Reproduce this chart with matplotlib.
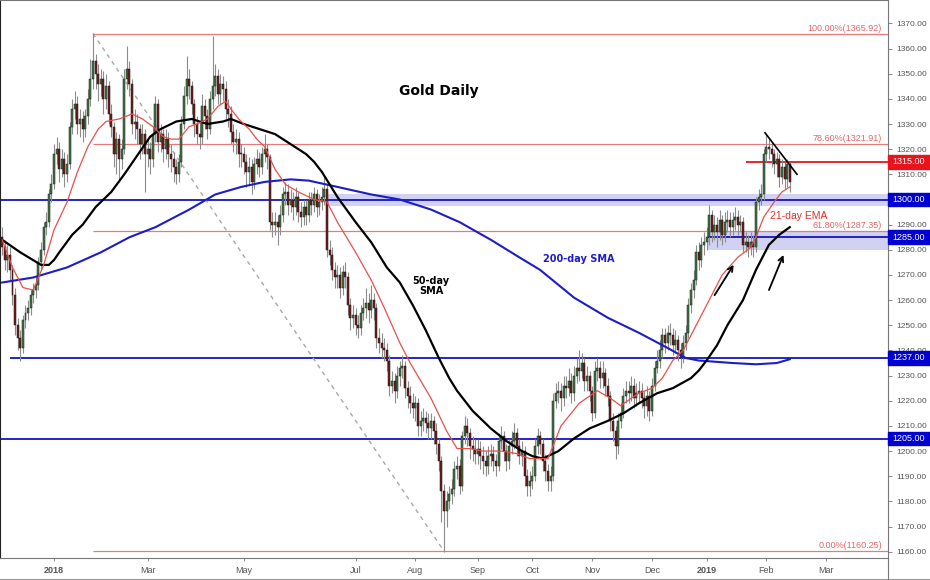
import numpy as np
import matplotlib.pyplot as plt
from matplotlib.transforms import blended_transform_factory
from matplotlib.patches import Rectangle
from matplotlib.lines import Line2D

plt.rcParams['font.family'] = ['Liberation Sans', 'DejaVu Sans']

# daily candles (Dec 2017 - Feb 2019)
opens = [
    1285, 1281, 1276, 1278, 1272, 1262, 1250, 1245, 1241, 1252,
    1255, 1257, 1262, 1264, 1266, 1275, 1280, 1289, 1291, 1302,
    1306, 1318, 1320, 1312, 1316, 1310, 1314, 1329, 1336, 1338,
    1330, 1332, 1328, 1333, 1340, 1348, 1355, 1350, 1346, 1348,
    1340, 1345, 1334, 1329, 1318, 1324, 1316, 1320, 1348, 1352,
    1346, 1330, 1331, 1328, 1322, 1326, 1318, 1320, 1316, 1326,
    1338, 1323, 1326, 1320, 1324, 1318, 1316, 1313, 1310, 1315,
    1330, 1341, 1348, 1345, 1338, 1330, 1326, 1325, 1337, 1333,
    1328, 1340, 1345, 1349, 1342, 1346, 1344, 1336, 1334, 1327,
    1323, 1324, 1318, 1318, 1315, 1311, 1313, 1307, 1314, 1316,
    1313, 1318, 1320, 1317, 1291, 1290, 1291, 1289, 1294, 1302,
    1303, 1298, 1300, 1297, 1301, 1295, 1293, 1297, 1294, 1300,
    1298, 1302, 1297, 1299, 1301, 1304, 1280, 1278, 1272, 1269,
    1270, 1265, 1271, 1269, 1258, 1253, 1254, 1250, 1249, 1255,
    1257, 1259, 1256, 1260, 1257, 1245, 1243, 1241, 1240, 1236,
    1226, 1228, 1224, 1230, 1233, 1234, 1225, 1222, 1219, 1217,
    1219, 1210, 1212, 1213, 1211, 1209, 1212, 1208, 1203, 1196,
    1184, 1176, 1180, 1183, 1185, 1193, 1194, 1186, 1206, 1210,
    1207, 1202, 1201, 1199, 1201, 1198, 1196, 1194, 1198, 1199,
    1196, 1194, 1204, 1206, 1200, 1196, 1202, 1204, 1207, 1202,
    1198, 1200, 1190, 1186, 1188, 1190, 1202, 1206, 1203, 1196,
    1192, 1188, 1190, 1220, 1223, 1224, 1221, 1226, 1225, 1228,
    1223, 1230, 1233, 1232, 1235, 1228, 1230, 1224, 1215, 1232,
    1233, 1229, 1231, 1226, 1222, 1212, 1208, 1202, 1212, 1215,
    1222, 1224, 1223, 1226, 1221, 1223, 1224, 1221, 1218, 1222,
    1216, 1226, 1233, 1236, 1240, 1246, 1243, 1247, 1246, 1242,
    1244, 1240, 1237, 1243, 1247, 1258, 1264, 1268, 1279, 1276,
    1282, 1283, 1285, 1294, 1287, 1290, 1287, 1292, 1286, 1291,
    1292, 1289, 1292, 1293, 1290, 1291, 1282, 1283, 1281, 1283,
    1281, 1299, 1301, 1302, 1318, 1321, 1320, 1318, 1314, 1316,
    1309, 1313, 1308, 1314]
highs = [
    1289, 1284, 1282, 1281, 1274, 1265, 1253, 1248, 1254, 1258,
    1260, 1264, 1267, 1269, 1277, 1283, 1291, 1295, 1304, 1310,
    1322, 1325, 1323, 1320, 1319, 1318, 1331, 1340, 1343, 1341,
    1336, 1335, 1336, 1344, 1356, 1366, 1358, 1354, 1352, 1351,
    1350, 1347, 1338, 1331, 1327, 1326, 1324, 1352, 1361, 1355,
    1348, 1336, 1334, 1330, 1330, 1328, 1324, 1323, 1329, 1341,
    1340, 1330, 1328, 1328, 1327, 1322, 1319, 1316, 1318, 1333,
    1345, 1357, 1352, 1347, 1340, 1333, 1331, 1342, 1340, 1336,
    1343, 1365, 1354, 1352, 1350, 1349, 1347, 1340, 1337, 1330,
    1328, 1327, 1322, 1321, 1318, 1317, 1316, 1317, 1320, 1319,
    1321, 1326, 1322, 1318, 1295, 1295, 1294, 1298, 1305, 1307,
    1306, 1304, 1303, 1305, 1303, 1299, 1300, 1300, 1303, 1303,
    1305, 1304, 1302, 1305, 1309, 1306, 1284, 1281, 1275, 1274,
    1273, 1274, 1275, 1271, 1261, 1258, 1257, 1254, 1258, 1261,
    1265, 1263, 1266, 1263, 1259, 1249, 1247, 1245, 1243, 1238,
    1232, 1231, 1234, 1236, 1238, 1236, 1228, 1226, 1223, 1222,
    1221, 1216, 1217, 1216, 1215, 1215, 1214, 1211, 1205, 1198,
    1187, 1184, 1186, 1189, 1196, 1198, 1197, 1208, 1214, 1213,
    1209, 1206, 1205, 1205, 1204, 1202, 1200, 1202, 1203, 1202,
    1199, 1207, 1210, 1208, 1203, 1205, 1208, 1211, 1209, 1205,
    1204, 1202, 1193, 1192, 1194, 1205, 1209, 1208, 1205, 1199,
    1195, 1194, 1223, 1227, 1228, 1227, 1230, 1230, 1233, 1231,
    1234, 1237, 1240, 1239, 1237, 1234, 1232, 1226, 1236, 1237,
    1236, 1236, 1233, 1229, 1224, 1215, 1210, 1215, 1219, 1225,
    1228, 1228, 1230, 1229, 1227, 1228, 1227, 1224, 1226, 1224,
    1229, 1236, 1240, 1244, 1249, 1249, 1250, 1251, 1249, 1248,
    1246, 1243, 1246, 1250, 1261, 1267, 1272, 1282, 1283, 1285,
    1287, 1289, 1298, 1296, 1294, 1293, 1296, 1294, 1295, 1296,
    1295, 1295, 1297, 1296, 1294, 1293, 1287, 1286, 1287, 1286,
    1301, 1304, 1306, 1320, 1326, 1324, 1323, 1320, 1319, 1318,
    1316, 1315, 1316, 1315]
lows = [
    1278, 1272, 1271, 1268, 1258, 1246, 1240, 1236, 1239, 1249,
    1252, 1254, 1259, 1261, 1264, 1272, 1278, 1286, 1289, 1299,
    1304, 1314, 1307, 1309, 1305, 1307, 1312, 1326, 1332, 1326,
    1325, 1323, 1325, 1330, 1337, 1344, 1344, 1339, 1341, 1334,
    1336, 1330, 1325, 1313, 1310, 1307, 1312, 1318, 1344, 1341,
    1326, 1324, 1322, 1316, 1318, 1303, 1313, 1310, 1313, 1323,
    1319, 1319, 1315, 1316, 1313, 1311, 1307, 1306, 1307, 1313,
    1328, 1338, 1340, 1334, 1325, 1322, 1320, 1322, 1328, 1324,
    1326, 1336, 1341, 1338, 1338, 1339, 1332, 1329, 1322, 1319,
    1318, 1313, 1313, 1310, 1305, 1306, 1302, 1304, 1310, 1309,
    1310, 1315, 1312, 1288, 1285, 1286, 1282, 1286, 1291, 1298,
    1294, 1295, 1292, 1294, 1291, 1289, 1290, 1290, 1291, 1294,
    1295, 1293, 1294, 1296, 1298, 1277, 1274, 1268, 1265, 1265,
    1261, 1262, 1265, 1254, 1248, 1249, 1246, 1245, 1246, 1252,
    1253, 1251, 1253, 1252, 1241, 1239, 1237, 1236, 1232, 1222,
    1223, 1219, 1221, 1226, 1229, 1221, 1217, 1215, 1213, 1212,
    1206, 1206, 1208, 1207, 1205, 1205, 1203, 1199, 1192, 1172,
    1160, 1170, 1177, 1179, 1182, 1189, 1183, 1184, 1203, 1202,
    1197, 1196, 1195, 1195, 1193, 1191, 1190, 1191, 1194, 1192,
    1190, 1192, 1201, 1196, 1192, 1193, 1199, 1201, 1198, 1195,
    1194, 1186, 1182, 1182, 1185, 1188, 1199, 1199, 1192, 1188,
    1184, 1184, 1188, 1217, 1219, 1216, 1218, 1221, 1222, 1219,
    1220, 1227, 1228, 1229, 1224, 1224, 1220, 1212, 1213, 1228,
    1225, 1225, 1222, 1218, 1208, 1204, 1197, 1199, 1209, 1213,
    1219, 1219, 1220, 1217, 1218, 1219, 1217, 1213, 1214, 1212,
    1214, 1224, 1231, 1233, 1237, 1239, 1240, 1242, 1238, 1239,
    1236, 1233, 1235, 1240, 1245, 1255, 1261, 1266, 1272, 1273,
    1278, 1280, 1282, 1283, 1284, 1281, 1284, 1282, 1283, 1287,
    1285, 1286, 1288, 1286, 1287, 1279, 1279, 1277, 1278, 1277,
    1279, 1296, 1298, 1300, 1315, 1316, 1313, 1310, 1309, 1305,
    1306, 1304, 1305, 1303]
closes = [
    1281, 1276, 1278, 1272, 1262, 1250, 1245, 1241, 1252, 1255,
    1257, 1262, 1264, 1266, 1275, 1280, 1289, 1291, 1302, 1306,
    1318, 1320, 1312, 1316, 1310, 1314, 1329, 1336, 1338, 1330,
    1332, 1328, 1333, 1340, 1348, 1355, 1350, 1346, 1348, 1340,
    1345, 1334, 1329, 1318, 1324, 1316, 1320, 1348, 1352, 1346,
    1330, 1331, 1328, 1322, 1326, 1318, 1320, 1316, 1326, 1338,
    1323, 1326, 1320, 1324, 1318, 1316, 1313, 1310, 1315, 1330,
    1341, 1348, 1345, 1338, 1330, 1326, 1325, 1337, 1333, 1328,
    1340, 1345, 1349, 1342, 1346, 1344, 1336, 1334, 1327, 1323,
    1324, 1318, 1318, 1315, 1311, 1313, 1307, 1314, 1316, 1313,
    1318, 1320, 1317, 1291, 1290, 1291, 1289, 1294, 1302, 1303,
    1298, 1300, 1297, 1301, 1295, 1293, 1297, 1294, 1300, 1298,
    1302, 1297, 1299, 1301, 1304, 1280, 1278, 1272, 1269, 1270,
    1265, 1271, 1269, 1258, 1253, 1254, 1250, 1249, 1255, 1257,
    1259, 1256, 1260, 1257, 1245, 1243, 1241, 1240, 1236, 1226,
    1228, 1224, 1230, 1233, 1234, 1225, 1222, 1219, 1217, 1219,
    1210, 1212, 1213, 1211, 1209, 1212, 1208, 1203, 1196, 1184,
    1176, 1180, 1183, 1185, 1193, 1194, 1186, 1206, 1210, 1207,
    1202, 1201, 1199, 1201, 1198, 1196, 1194, 1198, 1199, 1196,
    1194, 1204, 1206, 1200, 1196, 1202, 1204, 1207, 1202, 1198,
    1200, 1190, 1186, 1188, 1190, 1202, 1206, 1203, 1196, 1192,
    1188, 1190, 1220, 1223, 1224, 1221, 1226, 1225, 1228, 1223,
    1230, 1233, 1232, 1235, 1228, 1230, 1224, 1215, 1232, 1233,
    1229, 1231, 1226, 1222, 1212, 1208, 1202, 1212, 1215, 1222,
    1224, 1223, 1226, 1221, 1223, 1224, 1221, 1218, 1222, 1216,
    1226, 1233, 1236, 1240, 1246, 1243, 1247, 1246, 1242, 1244,
    1240, 1237, 1243, 1247, 1258, 1264, 1268, 1279, 1276, 1282,
    1283, 1285, 1294, 1287, 1290, 1287, 1292, 1286, 1291, 1292,
    1289, 1292, 1293, 1290, 1291, 1282, 1283, 1281, 1283, 1281,
    1299, 1301, 1302, 1318, 1321, 1320, 1318, 1314, 1316, 1309,
    1313, 1308, 1314, 1307]

# moving averages, read at selected candles
ema21_idx = [0, 4, 8, 12, 16, 20, 25, 29, 33, 37, 40, 45, 50, 54, 58, 62, 65, 68, 72, 75, 79,
             83, 86, 88, 91, 95, 98, 101, 105, 109, 114, 120, 125, 129, 136, 142, 147, 153,
             157, 165, 171, 175, 180, 185, 192, 198, 203, 210, 215, 222, 229, 234, 238, 242,
             245, 250, 254, 258, 262, 266, 268, 272, 277, 283, 288, 290, 293, 297, 300, 303]
ema21_val = [1284, 1273, 1265, 1264, 1274, 1288, 1299, 1311, 1321, 1328, 1331, 1332, 1334,
             1332, 1329, 1325, 1324, 1324, 1329, 1330, 1332, 1337, 1339, 1336, 1332, 1328,
             1324, 1321, 1312, 1306, 1303, 1300, 1299, 1291, 1279, 1268, 1257, 1243, 1235,
             1221, 1208, 1201, 1201, 1200, 1200, 1199, 1197, 1197, 1210, 1219, 1224, 1221,
             1218, 1221, 1223, 1225, 1229, 1236, 1240, 1248, 1252, 1260, 1270, 1277, 1281,
             1285, 1293, 1299, 1303, 1305]
sma50_idx = [0, 7, 15, 18, 20, 22, 27, 31, 36, 42, 47, 53, 57, 61, 67, 73, 79, 85, 88, 93,
             99, 105, 111, 117, 120, 123, 126, 129, 136, 142, 148, 153, 158, 163, 168, 172,
             175, 181, 188, 194, 200, 204, 208, 214, 220, 226, 233, 239, 245, 252, 258, 265,
             268, 271, 275, 279, 285, 290, 295, 299, 303]
sma50_val = [1284, 1279, 1274, 1274, 1276, 1279, 1286, 1290, 1297, 1303, 1310, 1319, 1325,
             1328, 1331, 1332, 1330, 1331, 1332, 1330, 1328, 1326, 1322, 1318, 1315, 1311,
             1306, 1301, 1291, 1283, 1273, 1267, 1258, 1248, 1237, 1229, 1224, 1216, 1209,
             1204, 1200, 1198, 1197, 1200, 1205, 1209, 1212, 1215, 1219, 1223, 1225, 1229,
             1232, 1236, 1242, 1250, 1260, 1272, 1282, 1286, 1289]
sma200_idx = [0, 12, 25, 38, 49, 59, 72, 82, 92, 101, 111, 118, 129, 142, 153, 165, 176,
              188, 199, 207, 220, 233, 245, 256, 263, 268, 281, 290, 298, 303]
sma200_val = [1267, 1269, 1273, 1279, 1285, 1289, 1296, 1302, 1305, 1307, 1308, 1307.5,
              1305, 1302, 1300, 1296, 1291, 1284, 1277, 1272, 1261, 1253, 1247, 1241, 1237,
              1236, 1235, 1234.5, 1235, 1236.5]

# fibonacci retracement of the Jan-Aug 2018 drop
fib_high_idx, fib_low_idx = 35, 170
fib_pct = ['100.00%', '78.60%', '61.80%', '0.00%']
fib_lvl = [1365.92, 1321.91, 1287.35, 1160.25]

# support / resistance levels
levels = [1315, 1300, 1285, 1237, 1205]
level_start = [286, 0, 271, 3, 0]
zones = [(1297.5, 1302, 125), (1280, 1287, 271)]

month_idx = [20, 56, 93, 136, 159, 183, 204, 227, 250, 271, 294, 317]
month_lbl = ['2018', 'Mar', 'May', 'Jul', 'Aug', 'Sep', 'Oct', 'Nov', 'Dec', '2019', 'Feb', 'Mar']

o = np.array(opens, float)
h = np.array(highs, float)
l = np.array(lows, float)
c = np.array(closes, float)
x = np.arange(len(c))
xmax = 340.8

fig = plt.figure(figsize=(9.3, 5.8), dpi=100)
ax = fig.add_axes([0, 22 / 580, 888 / 930, 558 / 580])
ax.set_xlim(-0.8, xmax)
ax.set_ylim(1157.5, 1379.3)

# zones and lines
for lo, hi, s in zones:
    ax.add_patch(Rectangle((s, lo), xmax - s, hi - lo, color='#c9c9f2', alpha=0.85, lw=0, zorder=1))
for lv, s in zip(levels, level_start):
    col = '#e8131b' if lv == 1315 else '#1414c4'
    ax.hlines(lv, s if s > 0 else -0.8, xmax, color=col, lw=1.3, zorder=1.5)

for p, v in zip(fib_pct, fib_lvl):
    ax.hlines(v, fib_high_idx, xmax, color='#e77b7b', lw=0.9, zorder=1.5)
    ax.text(338.5, v + 0.4, '%s(%.2f)' % (p, v), color='#e06666', fontsize=6.5,
            ha='right', va='bottom', zorder=6)
ax.plot([fib_high_idx, fib_low_idx], [fib_lvl[0], fib_lvl[-1]], color='#a8a8a8',
        lw=1.0, ls=(0, (3, 3)), zorder=1.5)

# candles
up = c >= o
body = np.maximum(np.abs(c - o), 0.5)
ax.vlines(x, l, h, color='#8c8c8c', lw=0.8, zorder=2)
ax.bar(x[up], body[up], bottom=o[up], width=0.75, color='#3f7a45', edgecolor='#1a1a1a', lw=0.35, zorder=3)
ax.bar(x[~up], body[~up], bottom=c[~up], width=0.75, color='#741a1a', edgecolor='#1a1a1a', lw=0.35, zorder=3)

# moving averages
ax.plot(sma200_idx, sma200_val, color='#1c1cc8', lw=1.5, zorder=4)
ax.plot(sma50_idx, sma50_val, color='black', lw=1.6, zorder=4)
ax.plot(ema21_idx, ema21_val, color='#e8504a', lw=0.9, zorder=4)

# trend line and arrows
ax.plot([293.5, 305.8], [1326.5, 1310], color='black', lw=1.2, zorder=5)
arr = dict(arrowstyle='->', color='black', lw=1.3, mutation_scale=9)
ax.annotate('', xy=(282, 1275), xytext=(273.5, 1261), arrowprops=arr, zorder=5)
ax.annotate('', xy=(301, 1279), xytext=(294.6, 1263), arrowprops=arr, zorder=5)

# annotations
ax.text(168, 1343.2, 'Gold Daily', fontsize=10, fontweight='bold', ha='center', va='center',
        family='DejaVu Sans')
ax.text(222, 1276.5, '200-day SMA', fontsize=7, fontweight='bold', color='#1c1cc8',
        ha='center', va='center', family='DejaVu Sans')
ax.text(165, 1265.7, '50-day\nSMA', fontsize=7, fontweight='bold', ha='center', va='center',
        linespacing=1.0, family='DejaVu Sans')
ax.text(295.4, 1293.5, '21-day EMA', fontsize=7.5, color='#e0302a', ha='left', va='center')

# axes styling
ax.yaxis.tick_right()
yt = np.arange(1160, 1371, 10)
ax.set_yticks(yt)
# the 1300 label sits under its highlighted box
ax.set_yticklabels(['' if v in levels else '%.2f' % v for v in yt])
ax.tick_params(axis='y', direction='out', length=3, width=0.6, color='#777777',
               labelsize=6, labelcolor='#555555', pad=3)
ax.set_xticks(month_idx)
ax.set_xticklabels(month_lbl)
for t in ax.get_xticklabels():
    if t.get_text() in ('2018', '2019'):
        t.set_fontweight('bold')
ax.tick_params(axis='x', direction='out', length=2, width=0.6, color='#777777',
               labelsize=6.5, labelcolor='#555555', pad=4)
for s in ax.spines.values():
    s.set_color('#777777')
    s.set_linewidth(0.8)
ax.spines['left'].set_color('#222222')

# highlighted price labels on the axis
tr = blended_transform_factory(ax.transAxes, ax.transData)
for lv in levels:
    col = '#e8131b' if lv == 1315 else '#0000d0'
    ax.add_patch(Rectangle((1.0, lv - 2.7), 42 / 888, 5.4, transform=tr, color=col,
                           clip_on=False, zorder=7))
    ax.text(1.0 + 21 / 888, lv, '%.2f' % lv, transform=tr, color='white', fontsize=6.5,
            ha='center', va='center', clip_on=False, zorder=8)

fig.add_artist(Line2D([0, 1], [1.5 / 580, 1.5 / 580], color='#999999', lw=0.8))
fig.add_artist(Line2D([888 / 930, 888 / 930], [0, 22 / 580], color='#777777', lw=0.8))

fig.savefig('out.png', dpi=100)
